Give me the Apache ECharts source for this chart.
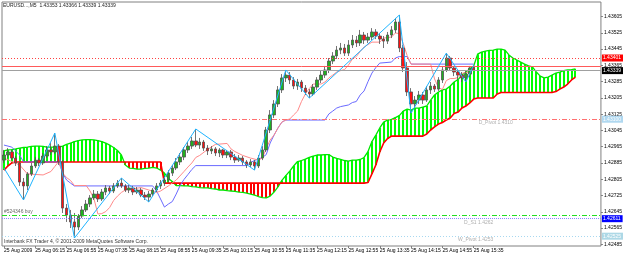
<!DOCTYPE html>
<html>
<head>
<meta charset="utf-8">
<script src="https://cdn.jsdelivr.net/npm/echarts@6/dist/echarts.min.js"></script>
<style>
  html, body { margin: 0; background: #fff; }
  #chart { width: 625px; height: 255px; }
</style>
</head>
<body>
<div id="chart"></div>
<script>
// all prices below are stored as pips above 1.42000
const BASE = 1.42;
const fmt = v => (BASE + v / 10000).toFixed(5);
const FONT = '"Liberation Sans", Arial, sans-serif';

const header = 'EURUSD...,M5  1.43353 1.43366 1.43339 1.43339';
const copyright = 'Interbank FX Trader 4, \u00a9 2001-2009 MetaQuotes Software Corp.';

const timeLabels = ['25 Aug 2009', '25 Aug 06:15', '25 Aug 06:55', '25 Aug 07:35', '25 Aug 08:15',
  '25 Aug 08:55', '25 Aug 09:35', '25 Aug 10:15', '25 Aug 10:55', '25 Aug 11:35', '25 Aug 12:15',
  '25 Aug 12:55', '25 Aug 13:35', '25 Aug 14:15', '25 Aug 14:55', '25 Aug 15:35'];
const barsPerLabel = 8;
const slotCount = 153;   // 121 bars + projected cloud + empty right margin

const yTicks = [48.5, 56.5, 64.5, 72.5, 80.5, 88.5, 96.5, 104.5, 112.5, 120.5, 128.5, 136.5, 144.5, 152.5, 160.5];

// [open, close, low, high]
const candles = [
  [89.9, 92.4, 88.5, 94.9], [92.4, 93.9, 90.9, 95.8], [93.9, 90.9, 89.9, 94.9], [90.9, 88.5, 87.0, 91.9],
  [88.5, 79.1, 77.2, 89.0], [79.1, 77.2, 70.3, 81.1], [77.2, 83.1, 75.2, 84.0], [83.1, 87.0, 82.1, 88.5],
  [87.0, 89.9, 86.0, 91.4], [89.9, 88.5, 87.0, 90.9], [88.5, 91.9, 87.5, 93.4], [91.9, 94.9, 90.9, 96.8],
  [94.9, 93.9, 92.4, 98.3], [93.9, 96.8, 92.9, 103.2], [96.8, 89.0, 87.5, 97.8], [89.0, 66.3, 63.9, 89.9],
  [66.3, 62.9, 59.5, 68.3], [62.9, 59.5, 56.5, 65.4], [59.5, 57.0, 51.6, 63.9], [57.0, 62.4, 55.5, 63.4],
  [62.4, 65.4, 61.4, 67.3], [65.4, 68.3, 64.4, 70.3], [68.3, 71.3, 66.8, 72.7], [71.3, 73.2, 70.3, 75.2],
  [73.2, 70.8, 69.3, 74.7], [70.8, 74.2, 69.8, 75.7], [74.2, 76.2, 72.7, 77.6], [76.2, 74.7, 73.2, 77.2],
  [74.7, 77.2, 73.7, 78.6], [77.2, 78.6, 76.2, 80.1], [78.6, 77.2, 76.2, 81.1], [77.2, 75.2, 74.2, 78.1],
  [75.2, 76.2, 73.7, 77.6], [76.2, 74.2, 72.7, 77.2], [74.2, 75.2, 73.2, 76.7], [75.2, 72.7, 71.7, 76.2],
  [72.7, 71.7, 70.3, 74.2], [71.7, 73.2, 69.3, 74.7], [73.2, 75.2, 72.2, 76.2], [75.2, 77.2, 74.2, 78.6],
  [77.2, 78.6, 75.7, 80.1], [78.6, 80.1, 77.2, 82.1], [80.1, 83.5, 79.1, 85.0], [83.5, 86.0, 82.1, 87.5],
  [86.0, 89.0, 85.0, 90.9], [89.0, 91.4, 87.5, 93.4], [91.4, 94.9, 89.9, 96.3], [94.9, 96.8, 93.4, 98.8],
  [96.8, 99.3, 95.4, 101.3], [99.3, 97.3, 96.3, 105.2], [97.3, 98.8, 95.4, 100.8], [98.8, 95.8, 94.4, 99.8],
  [95.8, 94.4, 92.4, 97.3], [94.4, 95.4, 92.9, 96.8], [95.4, 93.4, 91.9, 96.3], [93.4, 94.9, 91.4, 95.8],
  [94.9, 92.4, 90.9, 95.4], [92.4, 93.9, 90.9, 94.9], [93.9, 91.4, 89.9, 94.9], [91.4, 89.9, 88.5, 92.9],
  [89.9, 90.9, 89.0, 92.4], [90.9, 89.0, 87.5, 91.9], [89.0, 87.5, 86.0, 89.9], [87.5, 89.0, 86.5, 90.4],
  [89.0, 87.0, 85.0, 89.9], [87.0, 90.9, 86.0, 92.4], [90.9, 94.9, 89.9, 96.8], [94.9, 104.7, 93.9, 106.2],
  [104.7, 112.1, 103.2, 114.5], [112.1, 117.5, 110.6, 119.4], [117.5, 124.4, 116.0, 126.3], [124.4, 130.3, 122.9, 132.2],
  [130.3, 131.7, 128.3, 134.2], [131.7, 129.3, 127.3, 133.2], [129.3, 126.3, 124.8, 130.7], [126.3, 128.3, 124.4, 129.8],
  [128.3, 125.3, 123.4, 129.3], [125.3, 123.4, 121.9, 126.8], [123.4, 122.4, 120.4, 124.8], [122.4, 125.8, 121.4, 127.3],
  [125.8, 129.3, 124.4, 130.7], [129.3, 131.7, 127.8, 133.7], [131.7, 134.2, 130.3, 136.2], [134.2, 138.6, 132.7, 140.1],
  [138.6, 141.1, 137.1, 143.0], [141.1, 144.0, 139.6, 146.0], [144.0, 145.0, 142.0, 147.5], [145.0, 142.5, 141.1, 147.0],
  [142.5, 146.5, 141.1, 148.9], [146.5, 148.9, 145.0, 151.4], [148.9, 147.5, 145.5, 150.9], [147.5, 151.4, 146.0, 153.9],
  [151.4, 148.9, 147.0, 152.9], [148.9, 150.4, 147.5, 152.4], [150.4, 152.9, 148.9, 154.8], [152.9, 150.9, 149.4, 154.3],
  [150.9, 149.4, 147.0, 152.4], [149.4, 148.4, 145.0, 150.9], [148.4, 151.4, 147.0, 152.9], [151.4, 153.9, 149.9, 155.8],
  [153.9, 157.8, 152.4, 159.8], [157.8, 145.0, 143.0, 161.2], [145.0, 135.2, 133.2, 146.5], [135.2, 123.4, 121.4, 138.1],
  [123.4, 117.5, 113.0, 125.3], [117.5, 119.4, 115.5, 121.4], [119.4, 121.9, 117.5, 123.9], [121.9, 119.4, 117.5, 123.4],
  [119.4, 124.4, 118.5, 126.3], [124.4, 126.3, 122.4, 128.3], [126.3, 124.8, 123.4, 127.3], [124.8, 129.3, 123.9, 130.7],
  [129.3, 134.2, 127.8, 136.2], [134.2, 140.1, 133.2, 142.5], [140.1, 135.2, 133.7, 141.1], [135.2, 133.2, 131.2, 136.2],
  [133.2, 131.7, 129.3, 134.2], [131.7, 130.3, 128.3, 133.2], [130.3, 132.2, 128.3, 133.7], [132.2, 135.2, 130.7, 136.2],
  [135.3, 133.9, 133.9, 136.6]
];

// Ichimoku lines, [bar, value]
const tenkan = [[0, 90.9], [4, 87.5], [6, 83.1], [10, 82.6], [12, 84.3], [13, 86.8], [14, 89.2], [15, 83.5], [16, 81.3],
  [17, 79.9], [18, 77.4], [21, 77.4], [22, 74.7], [23, 70.8], [24, 63.4], [25, 63.6], [26, 64.6], [27, 66.6], [28, 70.0],
  [29, 72.2], [30, 74.0], [31, 75.2], [35, 76.4], [37, 75.2], [39, 74.0], [40, 74.7], [42, 77.2], [44, 80.1], [46, 84.3],
  [47, 86.5], [48, 88.5], [49, 91.2], [50, 92.2], [52, 95.1], [54, 97.6], [57, 98.1], [58, 95.4], [59, 94.1], [61, 92.2],
  [63, 90.9], [65, 89.9], [66, 90.9], [67, 95.6], [68, 99.8], [69, 102.2], [70, 105.7], [71, 108.6], [72, 109.6], [73, 110.1],
  [74, 112.1], [75, 114.0], [76, 118.7], [77, 122.4], [78, 125.1], [79, 127.3], [81, 127.3], [82, 128.3], [83, 130.3],
  [84, 131.7], [85, 133.2], [86, 133.9], [87, 134.4], [88, 136.6], [89, 139.6], [90, 140.8], [91, 143.3], [92, 145.5],
  [93, 146.7], [94, 147.9], [96, 147.9], [97, 149.9], [99, 150.4], [100, 152.4], [101, 152.1], [102, 147.2], [103, 141.3],
  [104, 137.1], [109, 137.1], [110, 129.8], [111, 125.6], [112, 124.6], [113, 129.0], [114, 130.0], [115, 130.0],
  [116, 130.5], [117, 132.5], [118, 133.0], [119, 133.2], [120, 135.2]];

const kijun = [[0, 97.3], [2, 96.3], [4, 92.4], [5, 89.0], [14, 89.0], [15, 83.5], [16, 80.1], [17, 78.6], [18, 77.2],
  [38, 77.2], [39, 74.7], [40, 70.8], [41, 66.8], [42, 68.3], [43, 69.5], [44, 73.2], [45, 77.4], [46, 80.4], [47, 82.8],
  [48, 85.3], [49, 87.2], [62, 87.2], [63, 88.7], [64, 89.7], [65, 90.4], [66, 91.2], [67, 92.6], [68, 98.3], [69, 102.2],
  [70, 105.7], [71, 108.6], [72, 109.6], [82, 109.6], [83, 112.6], [84, 114.0], [85, 115.5], [86, 116.2], [88, 117.0],
  [89, 118.2], [90, 118.7], [91, 121.9], [92, 123.9], [93, 128.5], [94, 132.7], [95, 135.4], [96, 137.6], [99, 138.1],
  [100, 140.1], [101, 140.8], [103, 140.8], [104, 137.1], [120, 137.1]];

// senkou spans, one value per bar (0..146)
const spanA = [
  94.4, 94.9, 95.1, 95.4, 95.8, 96.1, 96.3, 96.6, 96.8, 96.8, 96.6, 96.3, 96.3, 96.3, 96.3, 96.8,
  97.6, 98.3, 99.0, 99.5, 99.8, 100.0, 100.0, 99.8, 99.5, 99.0, 98.3, 97.3, 96.1, 94.6, 92.4, 87.5,
  86.0, 85.8, 85.5, 85.5, 85.8, 86.0, 86.3, 86.0, 85.0, 83.5, 80.9, 79.4,
  77.4, 77.4, 77.2, 77.2, 76.9, 76.7, 76.4, 76.2, 76.2, 75.9, 75.7, 75.2, 75.2, 74.9, 74.7, 74.5,
  74.2, 74.0, 73.7, 73.2, 72.7, 72.0, 71.5, 71.3, 72.2, 74.2, 76.7,
  79.9, 82.3, 84.5, 87.0, 89.2, 89.7, 90.4, 91.2, 91.9, 92.4, 92.4, 92.6, 92.6, 91.4, 90.7, 90.2,
  89.7, 89.4, 89.9, 89.9, 90.2, 91.2, 94.1,
  99.0, 102.2, 105.7, 108.6, 109.6, 109.9, 110.8, 111.8, 114.0, 115.0, 114.5, 115.5, 115.5, 116.0,
  116.5, 119.4, 121.9, 123.4, 124.4, 124.8, 126.3, 128.3, 129.5, 131.7, 133.2, 134.7, 136.2,
  142.0, 143.0, 143.5, 143.8, 144.0, 144.5, 144.5, 144.0, 141.6, 140.1, 139.1, 138.1, 137.1, 136.2,
  135.7, 133.2, 131.2, 130.3, 130.7, 131.7, 132.7, 133.2, 133.9, 134.2, 134.4, 134.7
];
const spanB = [
  85.0, 87.0, 88.5,
  89.0, 89.0, 89.0, 89.0, 89.0, 89.0, 89.0, 89.0, 89.0, 89.0, 89.0, 89.0, 89.0, 89.0, 89.0, 89.0, 89.0, 89.0, 89.0,
  89.0, 89.0, 89.0, 89.0, 89.0, 89.0, 89.0, 89.0, 89.0, 89.0, 89.0, 89.0, 89.0, 89.0, 89.0, 89.0, 89.0, 89.0, 89.0,
  78.6, 78.6, 78.6, 78.6, 78.6, 78.6, 78.6, 78.6, 78.6, 78.6, 78.6, 78.6, 78.6, 78.6, 78.6, 78.6, 78.6, 78.6,
  78.6, 78.6, 78.6, 78.6, 78.6, 78.6, 78.6, 78.6, 78.6, 78.6, 78.6, 78.6, 78.6, 78.6, 78.6, 78.6, 78.6, 78.6,
  78.6, 78.6, 78.6, 78.6, 78.6, 78.6, 78.6, 78.6, 78.6, 78.6, 78.6, 78.6, 78.6, 78.6, 78.6, 78.6,
  78.9, 83.1, 87.5, 93.9, 98.3, 100.5,
  101.7, 101.7, 101.7, 101.7, 101.7, 101.7, 101.7, 101.7, 101.7,
  102.7, 104.7, 106.2, 107.6, 108.4, 109.6, 110.6, 112.8, 113.5, 115.5, 116.5, 118.0, 119.9,
  120.4, 120.4, 120.4, 120.4, 120.4, 122.4,
  123.1, 123.1, 123.1, 123.1, 123.1, 123.1, 123.1, 123.1, 123.1, 123.1, 123.1, 123.1, 123.1, 123.1,
  123.6, 124.8, 125.8, 127.3, 129.3, 130.7
];

const zigzag = [[0, 86.0], [5, 70.3], [13, 103.2], [18, 51.6], [30, 81.1], [37, 69.3], [49, 105.2], [64, 85.0],
  [72, 134.2], [78, 120.4], [101, 161.2], [104, 113.0], [113, 142.5], [118, 128.3], [120, 136.6]];

// horizontal levels
const resistDotted = 140.1;
const resistSolid = 136.1;
const bid = 133.9;
const dPivot = 110.0;
const buyOrder = 62.9;
const dS1 = 61.1;
const wPivot = 52.5;

// text objects: [text, bar, value]
const notes = [['#524346 buy', 0, buyOrder], ['D_Pivot 1.4310', 130, dPivot], ['D_S1 1.4262', 125, dS1], ['W_Pivot 1.4253', 125, wPivot]];

const chart = echarts.init(document.getElementById('chart'));

const showLabelAt = i => i % barsPerLabel === 0 && i / barsPerLabel < timeLabels.length;
const priceBox = (bg, text) => ({
  show: true, position: 'end', distance: 1, formatter: text,
  color: '#fff', backgroundColor: bg, padding: [1, 2, 0, 1],
  fontSize: 5, fontFamily: FONT, lineHeight: 6
});

const option = {
  animation: false,
  backgroundColor: '#fff',
  title: {
    text: header, left: 3, top: 3, padding: 0,
    textStyle: { fontSize: 5, fontWeight: 'normal', color: '#222', fontFamily: FONT }
  },
  grid: { left: 2, top: 2, right: 18.5, bottom: 9, show: true, borderColor: '#808080', borderWidth: 1 },
  xAxis: {
    type: 'category',
    data: Array.from({ length: slotCount }, (_, i) => i),
    boundaryGap: true,
    axisLine: { show: false },
    axisTick: { show: true, interval: showLabelAt, alignWithLabel: true, length: 2, lineStyle: { color: '#808080' } },
    axisLabel: {
      interval: showLabelAt, align: 'left', margin: 2,
      formatter: (v, i) => timeLabels[i / barsPerLabel],
      fontSize: 5, color: '#000', fontFamily: FONT
    },
    splitLine: { show: false }
  },
  yAxis: {
    type: 'value',
    position: 'right',
    min: 47.67, max: 167.63,
    axisLine: { show: false },
    axisTick: { show: true, customValues: yTicks, length: 2, lineStyle: { color: '#808080' } },
    axisLabel: { customValues: yTicks, formatter: fmt, margin: 3, fontSize: 5, color: '#000', fontFamily: FONT },
    splitLine: { show: false }
  },
  graphic: [{
    type: 'text', left: 4, bottom: 11,
    style: { text: copyright, fontSize: 5, fill: '#333', fontFamily: FONT }
  }],
  series: [
    {
      // cloud hatching: one vertical line per bar between span A and span B
      type: 'custom',
      z: 1,
      silent: true,
      clip: true,
      data: spanA.map((a, i) => [i, a, spanB[i]]),
      encode: { x: 0, y: [1, 2] },
      renderItem: (params, api) => {
        const a = api.coord([api.value(0), api.value(1)]);
        const b = api.coord([api.value(0), api.value(2)]);
        const x = Math.round(a[0]);
        return {
          type: 'line',
          shape: { x1: x, y1: a[1], x2: x, y2: b[1] },
          style: { stroke: api.value(1) >= api.value(2) ? '#00ff00' : '#ff0000', lineWidth: 2 }
        };
      }
    },
    {
      name: 'Senkou A', type: 'line', z: 2, silent: true, showSymbol: false,
      data: spanA.map((v, i) => [i, v]),
      lineStyle: { color: '#00e600', width: 1.3 }
    },
    {
      name: 'Senkou B', type: 'line', z: 2, silent: true, showSymbol: false,
      data: spanB.map((v, i) => [i, v]),
      lineStyle: { color: '#ff0000', width: 1.6 },
      markLine: {
        silent: true, symbol: ['none', 'none'], animation: false,
        label: { show: false },
        data: [
          { yAxis: resistDotted, lineStyle: { color: '#ff4040', type: [1, 2], width: 1 }, label: priceBox('#ff0000', fmt(resistDotted)) },
          { yAxis: resistSolid, lineStyle: { color: '#ff5a5a', type: 'solid', width: 1 } },
          { yAxis: resistSolid + 1.3, lineStyle: { opacity: 0 }, label: priceBox('#ff1a1a', fmt(resistSolid)) },
          { yAxis: bid, lineStyle: { color: '#a0a0a0', type: 'solid', width: 1 }, label: priceBox('#000000', fmt(bid)) },
          { yAxis: dPivot, lineStyle: { color: '#ff7070', type: [5, 2, 1, 2], width: 1 }, label: priceBox('#b0d8f0', fmt(dPivot)) },
          { yAxis: buyOrder, lineStyle: { color: '#22dd22', type: [5, 2, 1, 2], width: 1 } },
          { yAxis: dS1, lineStyle: { color: '#8888ff', type: [1, 1], width: 1 }, label: priceBox('#0000ff', fmt(dS1)) },
          { yAxis: wPivot, lineStyle: { color: '#a8d8f0', type: [1, 2], width: 1 }, label: priceBox('#add8e6', fmt(wPivot)) }
        ]
      }
    },
    {
      name: 'Kijun', type: 'line', z: 3, silent: true, showSymbol: false,
      data: kijun, lineStyle: { color: '#6a6aff', width: 1 }
    },
    {
      name: 'Tenkan', type: 'line', z: 3, silent: true, showSymbol: false,
      data: tenkan, lineStyle: { color: '#ff8a8a', width: 1 }
    },
    {
      name: 'EURUSD', type: 'candlestick', z: 4, silent: true,
      data: candles,
      barWidth: 3,
      itemStyle: { color: '#20b020', color0: '#ff1010', borderColor: '#505050', borderColor0: '#505050', borderWidth: 0.8 }
    },
    {
      name: 'ZigZag', type: 'line', z: 5, silent: true, showSymbol: false,
      data: zigzag, lineStyle: { color: '#1eb4ff', width: 1 }
    },
    {
      type: 'scatter', z: 6, silent: true, symbolSize: 0,
      data: notes.map((n, k) => ({
        value: [n[1], n[2]],
        label: k === 0
          ? { show: true, formatter: n[0], position: [0, -1], align: 'left', verticalAlign: 'bottom', color: '#444', fontSize: 5, fontFamily: FONT }
          : { show: true, formatter: n[0], position: [0, 1], align: 'right', verticalAlign: 'top', color: '#9a9a9a', fontSize: 5, fontFamily: FONT }
      }))
    }
  ]
};

chart.setOption(option);
</script>
</body>
</html>
